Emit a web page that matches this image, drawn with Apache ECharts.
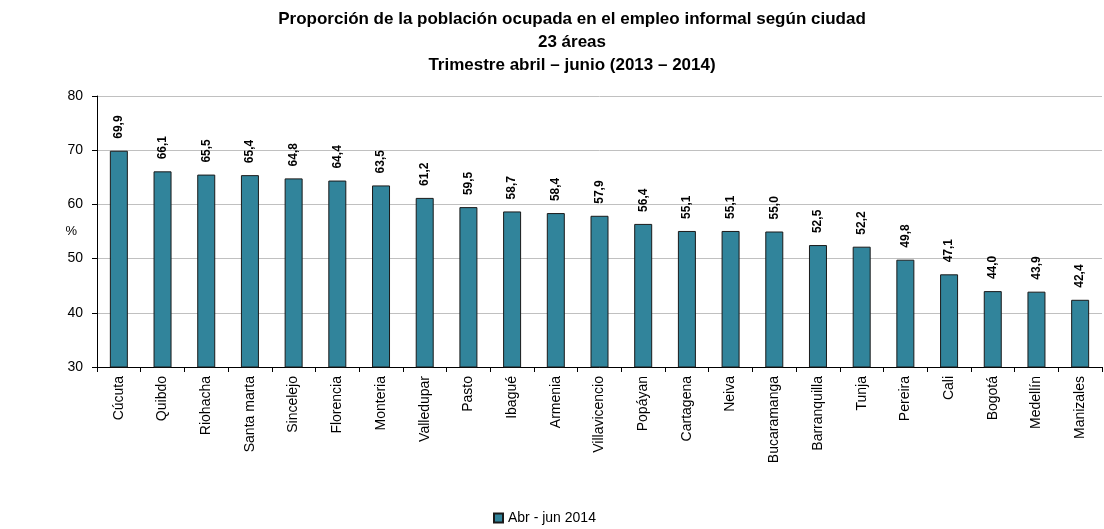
<!DOCTYPE html>
<html>
<head>
<meta charset="utf-8">
<script src="https://cdn.jsdelivr.net/npm/echarts@6/dist/echarts.min.js"></script>
<style>html,body{margin:0;padding:0;background:#fff}#c{width:1104px;height:529px}</style>
</head>
<body>
<div id="c"></div>
<script>
const titleLines = ['Proporción de la población ocupada en el empleo informal según ciudad', '23 áreas', 'Trimestre abril – junio (2013 – 2014)'];
const categories = ['Cúcuta','Quibdo','Riohacha','Santa marta','Sincelejo','Florencia','Monteria','Valledupar','Pasto','Ibagué','Armenia','Villavicencio','Popáyan','Cartagena','Neiva','Bucaramanga','Barranquilla','Tunja','Pereira','Cali','Bogotá','Medellín','Manizales'];
const values = [69.9,66.1,65.5,65.4,64.8,64.4,63.5,61.2,59.5,58.7,58.4,57.9,56.4,55.1,55.1,55.0,52.5,52.2,49.8,47.1,44.0,43.9,42.4];
const seriesName = 'Abr - jun 2014';
const yTicks = {min: 30, max: 80, interval: 10};

const chart = echarts.init(document.getElementById('c'), null, {renderer: 'canvas'});
chart.setOption({
  animation: false,
  backgroundColor: '#ffffff',
  title: {
    text: titleLines.join('\n'),
    left: 567, top: 3, textAlign: 'center',
    textStyle: {fontFamily: 'Liberation Sans', fontWeight: 'bold', fontSize: 17, lineHeight: 23, color: '#000'}
  },
  legend: {
    data: [{name: seriesName, icon: 'rect'}], bottom: -1, left: 488,
    itemWidth: 9, itemHeight: 9, itemGap: 5,
    textStyle: {fontFamily: 'Liberation Sans', fontSize: 14, color: '#000'}
  },
  grid: {left: 97, right: 2, top: 96, bottom: 162, containLabel: false},
  xAxis: {
    type: 'category', data: categories,
    axisLine: {lineStyle: {color: '#000', width: 1}},
    axisTick: {show: true, alignWithLabel: false, length: 5, lineStyle: {color: '#000'}},
    axisLabel: {rotate: 90, interval: 0, fontFamily: 'Liberation Sans', fontSize: 14, color: '#000', margin: 9}
  },
  yAxis: {
    type: 'value', min: yTicks.min, max: yTicks.max, interval: yTicks.interval,
    name: '%', nameLocation: 'middle', nameRotate: 0, nameGap: 20, nameMoveOverlap: false,
    nameTextStyle: {fontFamily: 'Liberation Sans', fontSize: 13, color: '#000'},
    axisLine: {show: true, lineStyle: {color: '#000'}},
    axisTick: {show: true, length: 5, lineStyle: {color: '#000'}},
    axisLabel: {fontFamily: 'Liberation Sans', fontSize: 14, color: '#000', margin: 14},
    splitLine: {lineStyle: {color: '#c0c0c0', width: 1}}
  },
  series: [{
    name: seriesName, type: 'bar', data: values, barWidth: 18,
    itemStyle: {color: '#31849b', borderColor: '#1a1a1a', borderWidth: 1},
    label: {
      show: true, position: 'top', rotate: 90, align: 'left', verticalAlign: 'middle', distance: 12,
      fontFamily: 'Liberation Sans', fontWeight: 'bold', fontSize: 12, color: '#000',
      formatter: p => p.value.toFixed(1).replace('.', ',')
    }
  }]
});
</script>
</body>
</html>
